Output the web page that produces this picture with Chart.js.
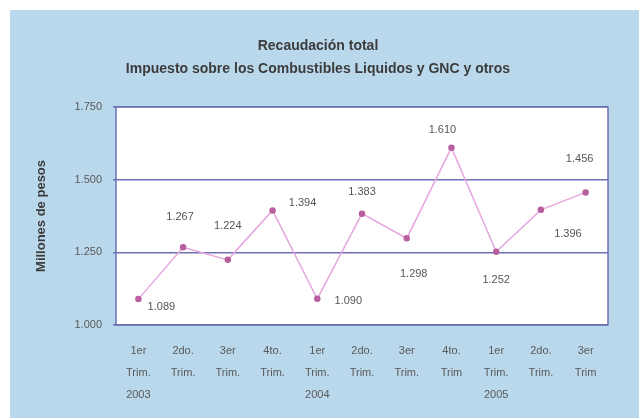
<!DOCTYPE html>
<html>
<head>
<meta charset="utf-8">
<script src="https://cdn.jsdelivr.net/npm/chart.js@4/dist/chart.umd.min.js"></script>
<style>
  html, body { margin: 0; padding: 0; background: #ffffff; }
  #wrap { position: relative; width: 639px; height: 418px; }
</style>
</head>
<body>
<div id="wrap"><canvas id="c" width="639" height="418"></canvas></div>
<script>
const categories = [
  ["1er", "Trim.", "2003"], ["2do.", "Trim."], ["3er", "Trim."], ["4to.", "Trim."],
  ["1er", "Trim.", "2004"], ["2do.", "Trim."], ["3er", "Trim."], ["4to.", "Trim"],
  ["1er", "Trim.", "2005"], ["2do.", "Trim."], ["3er", "Trim"]
];
const values = [1089, 1267, 1224, 1394, 1090, 1383, 1298, 1610, 1252, 1396, 1456];
const yTicks = [1000, 1250, 1500, 1750];
const titleLines = ["Recaudación total", "Impuesto sobre los Combustibles Liquidos y GNC y otros"];
const yTitle = "Millones de pesos";

const fmt = v => String(v).replace(/\B(?=(\d{3})+(?!\d))/g, ".");
const FONT = "'Liberation Sans', Arial, sans-serif";

const bgPlugin = {
  id: 'bgPlugin',
  beforeDraw(chart) {
    const ctx = chart.ctx, a = chart.chartArea;
    ctx.save();
    ctx.fillStyle = '#bad8eb';
    ctx.fillRect(10, 10, chart.width - 10, chart.height - 10);
    ctx.fillStyle = '#ffffff';
    ctx.fillRect(a.left, a.top, a.right - a.left, a.bottom - a.top);
    ctx.restore();
  },
  afterDatasetsDraw(chart, args, opts) {
    const ctx = chart.ctx, a = chart.chartArea;
    ctx.save();
    ctx.strokeStyle = '#6f6fb4';
    ctx.lineWidth = 1.5;
    ctx.strokeRect(a.left, a.top, a.right - a.left, a.bottom - a.top);
    const meta = chart.getDatasetMeta(0);
    ctx.fillStyle = '#555555';
    ctx.font = '11px ' + FONT;
    ctx.textAlign = 'center';
    ctx.textBaseline = 'middle';
    meta.data.forEach((pt, i) => {
      const o = opts.offsets[i];
      ctx.fillText(fmt(chart.data.datasets[0].data[i]), pt.x + o[0], pt.y + o[1]);
    });
    ctx.restore();
  }
};

new Chart(document.getElementById('c'), {
  type: 'line',
  data: {
    labels: categories,
    datasets: [{
      data: values,
      borderColor: '#e6a6de',
      borderWidth: 1.5,
      pointRadius: 2.5,
      pointBackgroundColor: '#b8609f',
      pointBorderColor: '#b8609f',
      tension: 0
    }]
  },
  options: {
    responsive: false,
    animation: false,
    devicePixelRatio: 1,
    layout: { padding: { left: 28, right: 31, top: 30, bottom: 12 } },
    plugins: {
      legend: { display: false },
      tooltip: { enabled: false },
      title: {
        display: true,
        text: titleLines,
        color: '#3c3c3c',
        font: { family: FONT, size: 14, weight: 'bold', lineHeight: 1.64 },
        padding: { top: 5, bottom: 26 }
      },
      bgPlugin: {
        offsets: [[23, 8], [-3, -30], [0, -34], [30, -7], [31, 2], [0, -22], [7, 36], [-9, -18], [0, 28], [27, 24], [-6, -33]]
      }
    },
    scales: {
      x: {
        offset: true,
        grid: { display: false, drawTicks: false },
        border: { display: false },
        ticks: {
          color: '#5a5a5a',
          font: { family: FONT, size: 11, lineHeight: 2 },
          padding: 15,
          maxRotation: 0,
          autoSkip: false
        },
        afterFit(s) { s.height = 81; }
      },
      y: {
        min: 1000,
        max: 1750,
        afterBuildTicks(s) { s.ticks = yTicks.map(v => ({ value: v })); },
        grid: { color: '#6f6fb4', lineWidth: 1.5, drawTicks: true, tickLength: 3 },
        border: { display: false },
        ticks: {
          color: '#5a5a5a',
          font: { family: FONT, size: 11 },
          padding: 11,
          callback: v => fmt(v)
        },
        title: {
          display: true,
          text: yTitle,
          color: '#3c3c3c',
          font: { family: FONT, size: 13, weight: 'bold' },
          padding: { top: 6, bottom: 0 }
        },
        afterFit(s) { s.width = 88; }
      }
    }
  },
  plugins: [bgPlugin]
});
</script>
</body>
</html>
